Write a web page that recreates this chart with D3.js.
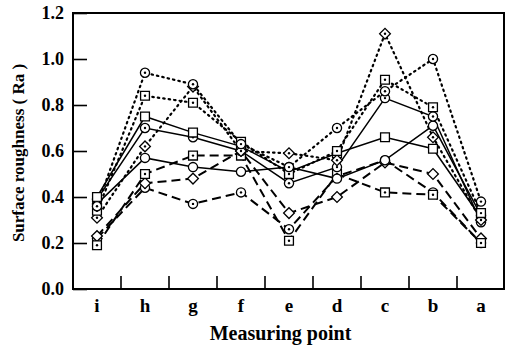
<!DOCTYPE html>
<html>
<head>
<meta charset="utf-8">
<script src="https://cdn.jsdelivr.net/npm/d3@7"></script>
<style>
  body { margin: 0; background: #fff; }
</style>
</head>
<body>
<div id="chart"></div>
<script>
// measuring points, read left to right
const categories = ["i", "h", "g", "f", "e", "d", "c", "b", "a"];
const yTicks = [0.0, 0.2, 0.4, 0.6, 0.8, 1.0, 1.2];

// dotted series
const dotCircle  = [0.36, 0.94, 0.89, 0.63, 0.53, 0.70, 0.86, 1.00, 0.38];
const dotSquare  = [0.34, 0.84, 0.81, 0.64, 0.50, 0.60, 0.91, 0.79, 0.33];
const dotDiamond = [0.31, 0.62, 0.88, 0.60, 0.59, 0.56, 1.11, 0.66, 0.30];
// solid series
const solidSquare  = [0.40, 0.75, 0.68, 0.62, 0.51, 0.59, 0.66, 0.61, 0.31];
const solidCircle  = [0.39, 0.70, 0.66, 0.60, 0.46, 0.53, 0.83, 0.75, 0.29];
const solidCircle2 = [0.37, 0.57, 0.53, 0.51, 0.53, 0.48, 0.56, 0.71, 0.32];
// dashed series
const dashSquare  = [0.19, 0.50, 0.58, 0.58, 0.21, 0.50, 0.42, 0.41, 0.20];
const dashDiamond = [0.23, 0.46, 0.48, 0.60, 0.33, 0.40, 0.55, 0.50, 0.22];
const dashCircle  = [0.22, 0.44, 0.37, 0.42, 0.26, 0.49, 0.56, 0.42, 0.20];

const series = [
  { values: dashCircle,   line: "dash",  marker: "circle",  dot: true },
  { values: dashDiamond,  line: "dash",  marker: "diamond", dot: false },
  { values: dashSquare,   line: "dash",  marker: "square",  dot: true },
  { values: solidCircle2, line: "solid", marker: "circle",  dot: false },
  { values: solidCircle,  line: "solid", marker: "circle",  dot: true },
  { values: solidSquare,  line: "solid", marker: "square",  dot: false },
  { values: dotDiamond,   line: "dot",   marker: "diamond", dot: true },
  { values: dotSquare,    line: "dot",   marker: "square",  dot: true },
  { values: dotCircle,    line: "dot",   marker: "circle",  dot: true }
];

const W = 506, H = 347;
const m = { left: 73, right: 504, top: 13, bottom: 289 };
const FONT = "Times New Roman, Liberation Serif, DejaVu Serif, serif";

const svg = d3.select("#chart").append("svg")
  .attr("width", W).attr("height", H)
  .style("font-family", FONT);

const x = d3.scaleBand().domain(categories).range([m.left, m.right + 1]);
const cx = c => x(c) + x.bandwidth() / 2;
const y = d3.scaleLinear().domain([0, 1.2]).range([m.bottom, m.top]);

// y axis, ticks pointing inward
const yAxis = svg.append("g")
  .attr("transform", `translate(${m.left},0)`)
  .call(d3.axisLeft(y).tickValues(yTicks).tickFormat(d3.format(".1f")).tickSize(-14).tickPadding(9));
yAxis.select(".domain").remove();
yAxis.selectAll("line").attr("stroke", "#000").attr("stroke-width", 1.6);
yAxis.selectAll("text")
  .style("font-family", FONT).style("font-weight", "bold")
  .style("font-size", "18px").attr("fill", "#000");

// x axis labels, boundary ticks drawn separately
const xAxis = svg.append("g")
  .attr("transform", `translate(0,${m.bottom})`)
  .call(d3.axisBottom(x).tickSize(0).tickPadding(10));
xAxis.select(".domain").remove();
xAxis.selectAll("text")
  .style("font-family", FONT).style("font-weight", "bold")
  .style("font-size", "19px").attr("fill", "#000");

svg.append("g").selectAll("line")
  .data(categories.slice(1))
  .join("line")
  .attr("x1", d => x(d)).attr("x2", d => x(d))
  .attr("y1", m.bottom).attr("y2", m.bottom - 13)
  .attr("stroke", "#000").attr("stroke-width", 1.6);

// frame
svg.append("rect")
  .attr("x", m.left).attr("y", m.top)
  .attr("width", m.right - m.left).attr("height", m.bottom - m.top)
  .attr("fill", "none").attr("stroke", "#000").attr("stroke-width", 2);

// axis titles
svg.append("text")
  .attr("x", (m.left + m.right) / 2 - 8).attr("y", 340)
  .attr("text-anchor", "middle")
  .style("font-family", FONT).style("font-weight", "bold").style("font-size", "20px")
  .text("Measuring point");

svg.append("text")
  .attr("transform", `translate(24,${(m.top + m.bottom) / 2 + 2}) rotate(-90)`)
  .attr("text-anchor", "middle")
  .style("font-family", FONT).style("font-weight", "bold").style("font-size", "17px")
  .text("Surface roughness ( Ra )");

const line = d3.line()
  .x((d, i) => cx(categories[i]))
  .y(d => y(d));

const dashes = { solid: null, dash: "9,5", dot: "1.5,4" };
const widths = { solid: 1.5, dash: 2, dot: 2.2 };

svg.append("g").selectAll("path")
  .data(series)
  .join("path")
  .attr("d", s => line(s.values))
  .attr("fill", "none")
  .attr("stroke", "#000")
  .attr("stroke-width", s => widths[s.line])
  .attr("stroke-dasharray", s => dashes[s.line])
  .attr("stroke-linecap", s => s.line === "dot" ? "round" : "butt");

const symbolFor = {
  circle: d3.symbol().type(d3.symbolCircle).size(66),
  square: d3.symbol().type(d3.symbolSquare).size(78),
  diamond: d3.symbol().type(d3.symbolSquare).size(58)
};

series.forEach(s => {
  const g = svg.append("g");
  const pts = g.selectAll("g")
    .data(s.values)
    .join("g")
    .attr("transform", (d, i) => `translate(${cx(categories[i])},${y(d)})`);
  pts.append("path")
    .attr("d", symbolFor[s.marker]())
    .attr("transform", s.marker === "diamond" ? "rotate(45)" : null)
    .attr("fill", "#fff")
    .attr("stroke", "#000")
    .attr("stroke-width", 1.3);
  if (s.dot) {
    pts.append("circle").attr("r", 1.2).attr("fill", "#000");
  }
});
</script>
</body>
</html>
